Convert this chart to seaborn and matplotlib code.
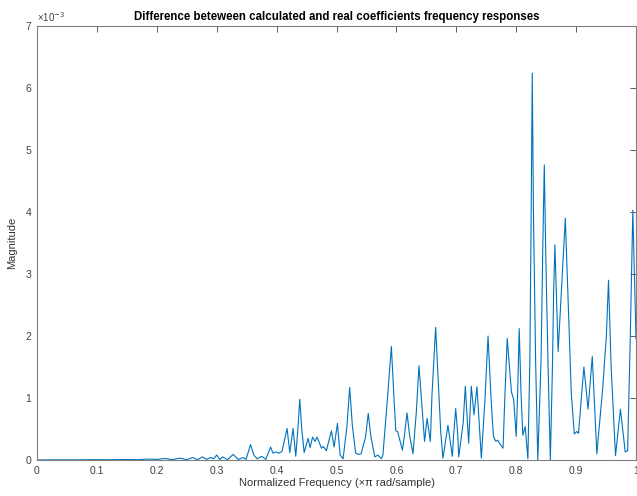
import numpy as np
import matplotlib
matplotlib.use("Agg")
import matplotlib.pyplot as plt
import seaborn as sns

freq = [0.000, 0.03, 0.06, 0.09, 0.12, 0.15, 0.17, 0.185, 0.20, 0.215, 0.225, 0.2385, 0.25,
        0.26, 0.268, 0.276, 0.283, 0.29, 0.295, 0.30, 0.305, 0.31, 0.318, 0.3275, 0.336,
        0.344, 0.349, 0.3565, 0.362, 0.3675, 0.375, 0.382, 0.39, 0.394, 0.399, 0.404, 0.409,
        0.4175, 0.422, 0.4275, 0.432, 0.4355, 0.4387, 0.442, 0.446, 0.4525, 0.456, 0.46,
        0.464, 0.4675, 0.475, 0.478, 0.483, 0.4916, 0.496, 0.5016, 0.506, 0.511, 0.5175,
        0.522, 0.5265, 0.532, 0.537, 0.541, 0.5485, 0.553, 0.5575, 0.564, 0.569, 0.575,
        0.5775, 0.5843, 0.5916, 0.5965, 0.599, 0.602, 0.61, 0.6135, 0.6177, 0.622, 0.6277,
        0.6333, 0.6377, 0.6433, 0.647, 0.6512, 0.6567, 0.6594, 0.6655, 0.671, 0.674, 0.6777,
        0.686, 0.6934, 0.6955, 0.699, 0.7025, 0.704, 0.7115, 0.715, 0.7206, 0.725, 0.7295,
        0.7345, 0.7418, 0.748, 0.753, 0.758, 0.762, 0.766, 0.769, 0.773, 0.778, 0.781,
        0.785, 0.792, 0.7957, 0.80, 0.8025, 0.805, 0.808, 0.811, 0.815, 0.8195, 0.8228,
        0.825, 0.8268, 0.8288, 0.8324, 0.836, 0.8415, 0.8445, 0.8469, 0.849, 0.853, 0.857,
        0.8605, 0.8625, 0.8646, 0.870, 0.882, 0.8863, 0.892, 0.897, 0.901, 0.904, 0.913,
        0.92, 0.927, 0.9346, 0.9446, 0.9505, 0.9541, 0.9585, 0.9658, 0.974, 0.982, 0.986,
        0.9905, 0.9947, 1.0]
magnitude_e3 = [0.0, 0.003, 0.002, 0.005, 0.004, 0.008, 0.005, 0.015, 0.01, 0.025, 0.005, 0.03, 0.005,
                0.04, 0.005, 0.05, 0.01, 0.04, 0.02, 0.08, 0.01, 0.05, 0.005, 0.09, 0.01,
                0.04, 0.01, 0.25, 0.08, 0.02, 0.06, 0.01, 0.21, 0.11, 0.13, 0.11, 0.14,
                0.51, 0.12, 0.51, 0.06, 0.5, 0.98, 0.5, 0.12, 0.35, 0.2, 0.37,
                0.3, 0.37, 0.19, 0.22, 0.15, 0.47, 0.21, 0.59, 0.08, 0.02, 0.55,
                1.17, 0.55, 0.11, 0.09, 0.1, 0.37, 0.75, 0.37, 0.05, 0.08, 0.02,
                0.08, 0.9, 1.83, 0.9, 0.47, 0.46, 0.16, 0.4, 0.76, 0.4, 0.1,
                0.78, 1.52, 0.78, 0.3, 0.67, 0.3, 1.05, 2.14, 1.05, 0.45, 0.03,
                0.56, 0.06, 0.4, 0.83, 0.4, 0.05, 0.6, 1.19, 0.27, 1.19, 0.73,
                1.18, 0.03, 1.0, 2.0, 1.0, 0.38, 0.3, 0.32, 0.26, 0.19, 1.0,
                1.96, 1.1, 0.98, 0.38, 1.1, 2.12, 1.1, 0.4, 0.54, 0.02, 1.6,
                4.0, 6.24, 4.0, 1.6, 0.0, 1.6, 3.5, 4.76, 3.5, 1.6, 0.0,
                1.5, 2.7, 3.47, 1.75, 3.9, 2.69, 1.07, 0.42, 0.46, 0.43, 1.5,
                0.82, 1.67, 0.1, 1.18, 2.0, 2.9, 1.5, 0.07, 0.82, 0.13, 0.15,
                2.0, 4.03, 1.95]

xticks = [0, 0.1, 0.2, 0.3, 0.4, 0.5, 0.6, 0.7, 0.8, 0.9, 1]
xticklabels = ["0", "0.1", "0.2", "0.3", "0.4", "0.5", "0.6", "0.7", "0.8", "0.9", "1"]
yticks = [0, 1, 2, 3, 4, 5, 6, 7]

sns.set_style("white")
plt.rcParams['font.family'] = ['Liberation Sans', 'DejaVu Sans']

fig = plt.figure(figsize=(6.37, 4.96), dpi=100)
ax = fig.add_axes([37/637, 1 - 460/496, 599/637, (460 - 26)/496])

sns.lineplot(x=freq, y=magnitude_e3, ax=ax, color="#0072BD", linewidth=0.8, sort=False)

ax.set_xlim(0, 1)
ax.set_ylim(0, 7)
ax.set_xticks(xticks)
ax.set_xticklabels(xticklabels)
ax.set_yticks(yticks)
for s in ax.spines.values():
    s.set_visible(True)
    s.set_color("#808080")
    s.set_linewidth(0.8)
ax.tick_params(direction="in", length=4, width=0.6, colors="#404040", labelsize=7.5,
               top=True, right=True, pad=4)

ax.set_title("Difference beteween calculated and real coefficients frequency responses",
             fontsize=8.3, fontweight="bold", color="black", pad=4)
ax.set_xlabel("Normalized Frequency (\u00d7\u03c0 rad/sample)", fontsize=8, color="#333333", labelpad=2)
ax.set_ylabel("Magnitude", fontsize=8, color="#333333", labelpad=6)
ax.text(0.0, 1.005, "\u00d710$^{-3}$", transform=ax.transAxes, fontsize=7, color="#404040",
        ha="left", va="bottom")

fig.savefig("out.png", dpi=100)
